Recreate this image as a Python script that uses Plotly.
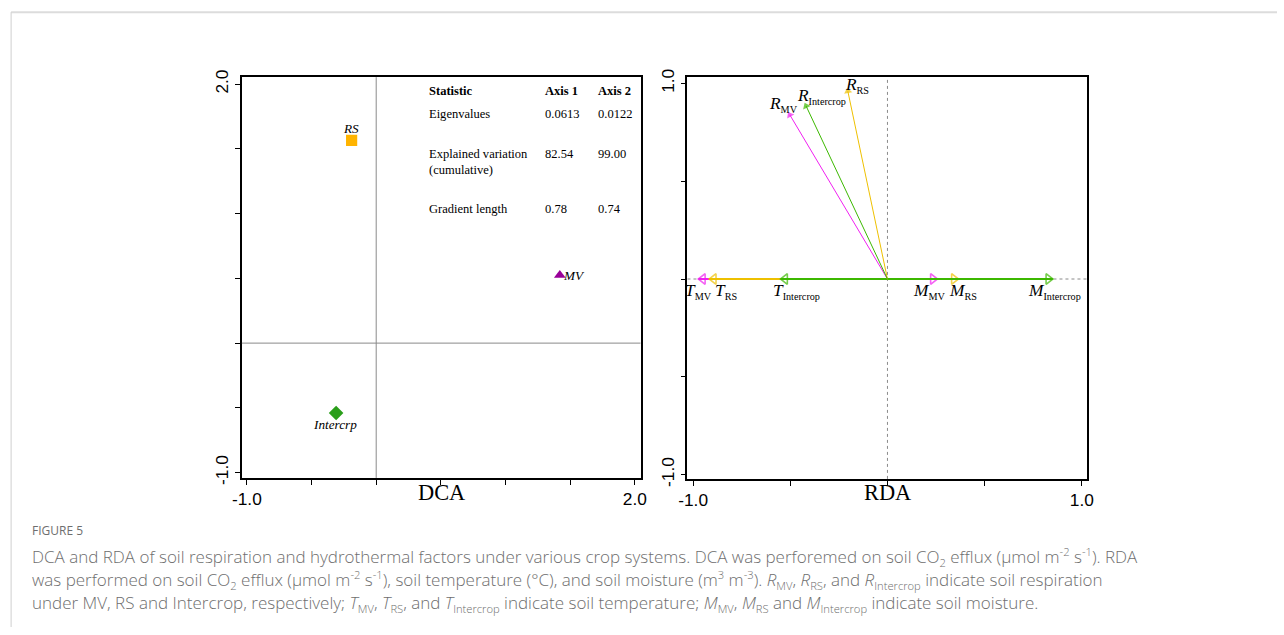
import plotly.graph_objects as go

# Figure size; the page photo maps page pixels onto the picture with a small
# scale + body-margin offset, so layout positions are converted below.
W, H = 1284, 635
SX, SY = 1284 / 1300, 635 / 651
BODY = 8
K = 1 / 0.982  # size compensation for the photo scaling
PAD = 3        # annotation inner padding (px)

# ---------------- data ----------------
# DCA sample scores
dca_names = ["RS", "MV", "Intercrp"]
dca_axis1 = [-0.19, 1.42, -0.31]
dca_axis2 = [1.565, 0.525, -0.54]

# DCA summary table
table_header = ["Statistic", "Axis 1", "Axis 2"]
table_rows = ["Eigenvalues", "Explained variation<br>(cumulative)", "Gradient length"]
table_axis1 = ["0.0613", "82.54", "0.78"]
table_axis2 = ["0.0122", "99.00", "0.74"]

# RDA vectors (tips)
rda_group = ["MV", "RS", "Intercrop"]
rda_R_x = [-0.51, -0.207, -0.425]
rda_R_y = [0.852, 0.975, 0.898]
rda_T_x = [-0.973, -0.917, -0.550]
rda_M_x = [0.257, 0.365, 0.851]

# axis tick labels
dca_ticks = [-1.0, 2.0]
dca_ticktext = ["-1.0", "2.0"]
rda_ticks = [-1.0, 1.0]
rda_ticktext = ["-1.0", "1.0"]

# ---------------- styles ----------------
SERIF = "Liberation Serif"
SANS = "Liberation Sans"
dca_colors = {"RS": "#FFB400", "MV": "#990099", "Intercrp": "#2A9E1A"}
dca_symbols = {"RS": "square", "MV": "triangle-up", "Intercrp": "diamond"}
rda_colors = {"MV": "#F020F0", "RS": "#EEC000", "Intercrop": "#3CB800"}


def px(x):
    return (x / SX - BODY) / W


def py(y):
    return 1 - (y / SY - BODY) / H


def fs(s):
    return s * K


fig = go.Figure()

# ---- DCA points ----
for n, xv, yv in zip(dca_names, dca_axis1, dca_axis2):
    fig.add_trace(go.Scatter(
        x=[xv], y=[yv], mode="markers", xaxis="x", yaxis="y",
        marker=dict(symbol=dca_symbols[n], size=fs(11) if n != "MV" else fs(10),
                    color=dca_colors[n], line=dict(width=0)),
        showlegend=False, hoverinfo="skip"))

label_shift = {"RS": (-1, 12, "center"), "MV": (1, 0, "left"), "Intercrp": (-1, -11, "center")}
for n, xv, yv in zip(dca_names, dca_axis1, dca_axis2):
    dx, dy, anc = label_shift[n]
    fig.add_annotation(x=xv, y=yv, xref="x", yref="y", text="<i>%s</i>" % n,
                       showarrow=False, xshift=dx / SX, yshift=dy / SY, xanchor=anc,
                       yanchor="middle", font=dict(family=SERIF, size=fs(13), color="black"))

# ---- RDA arrows ----
for i, g in enumerate(rda_group):
    c = rda_colors[g]
    for tip in (rda_T_x[i], rda_M_x[i]):
        fig.add_trace(go.Scatter(
            x=[0, tip], y=[0, 0], mode="lines+markers", xaxis="x2", yaxis="y2",
            line=dict(color=c, width=2),
            marker=dict(symbol="triangle-up-open", size=[0, fs(9)], angleref="previous",
                        standoff=[0, 4.5], color=c, line=dict(color=c, width=1.6)),
            showlegend=False, hoverinfo="skip"))
for i, g in enumerate(rda_group):
    c = rda_colors[g]
    fig.add_trace(go.Scatter(
        x=[0, rda_R_x[i]], y=[0, rda_R_y[i]], mode="lines+markers", xaxis="x2", yaxis="y2",
        line=dict(color=c, width=1),
        marker=dict(symbol="triangle-up", size=[0, fs(7)], angleref="previous",
                    standoff=[0, 3], color=c, line=dict(width=0)),
        showlegend=False, hoverinfo="skip"))


# RDA labels
def lab(letter, g):
    return "<i>%s</i><sub><span style='font-size:%.1fpx'>%s</span></sub>" % (letter, fs(10), g)


R_shift = {"MV": (-5, 8), "RS": (10, 3), "Intercrop": (16, 7)}
T_shift = {"MV": (0, -12), "RS": (17, -12), "Intercrop": (16, -12)}
M_shift = {"MV": (-8, -12), "RS": (5, -12), "Intercrop": (2, -12)}
for i, g in enumerate(rda_group):
    for letter, xv, yv, sh in (("R", rda_R_x[i], rda_R_y[i], R_shift[g]),
                                ("T", rda_T_x[i], 0, T_shift[g]),
                                ("M", rda_M_x[i], 0, M_shift[g])):
        fig.add_annotation(x=xv, y=yv, xref="x2", yref="y2", text=lab(letter, g),
                           showarrow=False, xshift=sh[0] / SX, yshift=sh[1] / SY,
                           yanchor="middle",
                           font=dict(family=SERIF, size=fs(17), color="black"))

# ---- reference lines ----
shapes = []
shapes.append(dict(type="line", xref="x", yref="y domain", x0=0, x1=0, y0=0, y1=1,
                   line=dict(color="#8a8a8a", width=1)))
shapes.append(dict(type="line", xref="x domain", yref="y", x0=0, x1=1, y0=0, y1=0,
                   line=dict(color="#8a8a8a", width=1)))
shapes.append(dict(type="line", xref="x2", yref="y2 domain", x0=0, x1=0, y0=0, y1=1,
                   line=dict(color="#8a8a8a", width=1, dash="dot"), layer="below"))
shapes.append(dict(type="line", xref="x2 domain", yref="y2", x0=0, x1=1, y0=0, y1=0,
                   line=dict(color="#8a8a8a", width=1, dash="dot"), layer="below"))
# page frame
shapes.append(dict(type="line", xref="paper", yref="paper", x0=px(9), x1=1, y0=py(12), y1=py(12),
                   line=dict(color="#dcdcdc", width=2)))
shapes.append(dict(type="line", xref="paper", yref="paper", x0=px(9), x1=px(9), y0=0, y1=py(12),
                   line=dict(color="#cfcfcf", width=1)))

# ---- table ----
col_x = [428 - PAD, 544 - PAD, 597 - PAD]
row_y = [114.3, 161.7, 209.3]
for j, h in enumerate(table_header):
    fig.add_annotation(x=px(col_x[j]), y=py(90.7), xref="paper", yref="paper",
                       text="<b>%s</b>" % h, showarrow=False, xanchor="left", yanchor="middle",
                       font=dict(family=SERIF, size=fs(12.3), color="black"))
for r, (name, a1, a2) in enumerate(zip(table_rows, table_axis1, table_axis2)):
    for j, t in enumerate((name, a1, a2)):
        yy = row_y[r] if j == 0 or r != 1 else 154.3
        fig.add_annotation(x=px(col_x[j]), y=py(yy), xref="paper", yref="paper",
                           text=t, showarrow=False, xanchor="left", yanchor="middle",
                           align="left", font=dict(family=SERIF, size=fs(12.3), color="black"))

# ---- axis titles ----
fig.add_annotation(x=0.5, y=py(493), xref="x domain", yref="paper", text="DCA", showarrow=False,
                   yanchor="middle", font=dict(family=SERIF, size=fs(22), color="black"))
fig.add_annotation(x=0.5, y=py(493), xref="x2 domain", yref="paper", text="RDA", showarrow=False,
                   yanchor="middle", font=dict(family=SERIF, size=fs(22), color="black"))

# ---- caption ----
cap_font = dict(family="Open Sans", size=fs(16.7), color="#6e6e6e", weight=300)
small = "<span style='font-size:%.1fpx'>%%s</span>" % fs(11)


def sub(t):
    return "<sub>" + small % t + "</sub>"


def sup(t):
    return "<sup>" + small % t + "</sup>"


fig.add_annotation(x=px(31 - PAD), y=py(531), xref="paper", yref="paper", text="FIGURE 5",
                   showarrow=False, xanchor="left", yanchor="middle",
                   font=dict(family="Open Sans", size=fs(11.8), color="#6e6e6e"))
cap_lines = [
    "DCA and RDA of soil respiration and hydrothermal factors under various crop systems. DCA was perforemed on soil CO"
    + sub("2") + " efflux (µmol m" + sup("-2") + " s" + sup("-1") + "). RDA",
    "was performed on soil CO" + sub("2") + " efflux (µmol m" + sup("-2") + " s" + sup("-1")
    + "), soil temperature (°C), and soil moisture (m" + sup("3") + " m" + sup("-3") + "). <i>R</i>"
    + sub("MV") + ", <i>R</i>" + sub("RS") + ", and <i>R</i>" + sub("Intercrop") + " indicate soil respiration",
    "under MV, RS and Intercrop, respectively; <i>T</i>" + sub("MV") + ", <i>T</i>" + sub("RS")
    + ", and <i>T</i>" + sub("Intercrop") + " indicate soil temperature; <i>M</i>" + sub("MV")
    + ", <i>M</i>" + sub("RS") + " and <i>M</i>" + sub("Intercrop") + " indicate soil moisture.",
]
for k, t in enumerate(cap_lines):
    fig.add_annotation(x=px(31 - PAD), y=py(556.7 + 23.3 * k), xref="paper", yref="paper", text=t,
                       showarrow=False, xanchor="left", yanchor="middle", font=cap_font)


# ---- axes ----
def axis(domain, rng, tickvals, ticktext, angle=0):
    return dict(domain=domain, range=rng, tickvals=tickvals, ticktext=ticktext,
                ticks="outside", ticklen=5, tickwidth=1, tickcolor="black",
                showline=True, linecolor="black", linewidth=1.5, mirror=True,
                showgrid=False, zeroline=False, tickangle=angle,
                tickfont=dict(family=SANS, size=fs(17), color="black"),
                minor=dict(dtick=0.5, tick0=-1.0, ticks="outside", ticklen=5,
                           tickcolor="black", tickwidth=1, showgrid=False),
                fixedrange=True)


fig.update_layout(
    width=W, height=H, autosize=False,
    margin=dict(l=0, r=0, t=0, b=0),
    paper_bgcolor="white", plot_bgcolor="white",
    xaxis=axis([px(240), px(639)], [-1.0386, 2.044], dca_ticks, dca_ticktext),
    yaxis=axis([py(478), py(77)], [-1.041, 2.054], dca_ticks, dca_ticktext, -90),
    xaxis2=axis([px(686), px(1086)], [-1.029, 1.027], rda_ticks, rda_ticktext),
    yaxis2=axis([py(479), py(77)], [-1.022, 1.032], rda_ticks, rda_ticktext, -90),
    shapes=shapes,
    showlegend=False,
)
fig.update_layout(yaxis2=dict(anchor="x2"), xaxis2=dict(anchor="y2"))

fig.write_html("out.html")
